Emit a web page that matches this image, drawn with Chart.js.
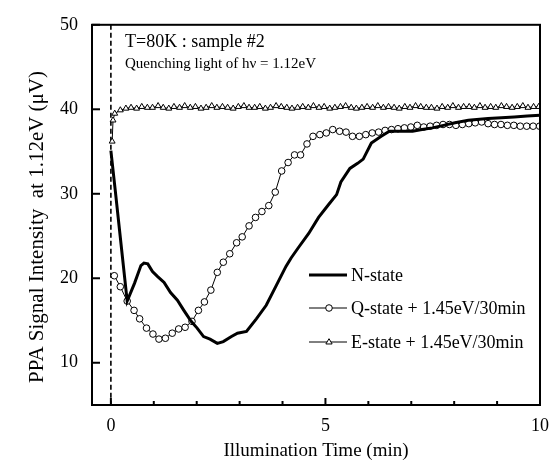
<!DOCTYPE html>
<html>
<head>
<meta charset="utf-8">
<script src="https://cdn.jsdelivr.net/npm/chart.js@4.4.1/dist/chart.umd.min.js"></script>
<style>
  body { margin: 0; background: #fff; }
  canvas { display: block; }
</style>
</head>
<body>
<canvas id="ppaChart" width="559" height="466"></canvas>
<script>
// Courbes PPA a 80K, sample #2
const seriesLabels = ['N-state', 'Q-state + 1.45eV/30min', 'E-state + 1.45eV/30min'];

const nTime = [0.00, 0.10, 0.21, 0.38, 0.55, 0.70, 0.77, 0.86, 0.97, 1.09,
  1.24, 1.39, 1.55, 1.70, 1.87, 2.01, 2.16, 2.31, 2.48, 2.62,
  2.81, 2.95, 3.16, 3.39, 3.62, 3.85, 4.08, 4.20, 4.38, 4.61,
  4.84, 5.07, 5.26, 5.36, 5.57, 5.75, 5.88, 6.07, 6.30, 6.49,
  6.75, 7.03, 7.25, 7.49, 7.75, 8.02, 8.33, 8.79, 9.10, 9.40,
  9.70, 10.0];
const nSignal = [35.1, 30.5, 25.3, 17.3, 19.4, 21.5, 21.8, 21.7, 20.8, 20.2,
  19.5, 18.3, 17.4, 16.2, 14.9, 14.1, 13.1, 12.8, 12.3, 12.5,
  13.1, 13.5, 13.7, 15.2, 16.8, 19.1, 21.4, 22.4, 23.7, 25.3,
  27.2, 28.7, 29.9, 31.4, 33.0, 33.6, 34.1, 36.0, 36.8, 37.4,
  37.4, 37.4, 37.6, 37.8, 38.1, 38.4, 38.7, 38.9, 39.0, 39.1,
  39.2, 39.3];

const qTime = [0.08, 0.22, 0.38, 0.54, 0.67, 0.83, 0.98, 1.12, 1.27, 1.43,
  1.58, 1.73, 1.89, 2.04, 2.18, 2.33, 2.48, 2.62, 2.77, 2.93,
  3.06, 3.22, 3.37, 3.52, 3.68, 3.83, 3.98, 4.13, 4.28, 4.42,
  4.57, 4.71, 4.87, 5.02, 5.17, 5.33, 5.48, 5.63, 5.79, 5.94,
  6.09, 6.24, 6.39, 6.54, 6.69, 6.84, 6.99, 7.14, 7.29, 7.44,
  7.59, 7.74, 7.89, 8.04, 8.19, 8.34, 8.49, 8.64, 8.79, 8.94,
  9.09, 9.24, 9.39, 9.54, 9.69, 9.84, 9.99];
const qSignal = [20.3, 19.0, 17.3, 16.2, 15.2, 14.1, 13.4, 12.8, 12.9, 13.5,
  14.0, 14.2, 14.9, 16.2, 17.2, 18.6, 20.7, 21.9, 22.9, 24.2,
  24.9, 26.2, 27.2, 27.9, 28.6, 30.2, 32.7, 33.7, 34.6, 34.6,
  35.9, 36.8, 37.0, 37.2, 37.6, 37.4, 37.3, 36.8, 36.8, 37.0,
  37.2, 37.3, 37.5, 37.6, 37.7, 37.8, 37.9, 38.1, 37.9, 38.0,
  38.1, 38.2, 38.2, 38.1, 38.2, 38.3, 38.4, 38.5, 38.3, 38.2,
  38.2, 38.1, 38.1, 38.0, 38.0, 38.0, 38.0];

const eTime = [0.03, 0.05, 0.09, 0.22, 0.35, 0.47, 0.60, 0.72, 0.85, 0.97,
  1.10, 1.22, 1.35, 1.47, 1.60, 1.72, 1.85, 1.97, 2.10, 2.22,
  2.35, 2.47, 2.60, 2.72, 2.85, 2.97, 3.10, 3.22, 3.35, 3.47,
  3.60, 3.72, 3.85, 3.97, 4.10, 4.22, 4.35, 4.47, 4.60, 4.72,
  4.85, 4.97, 5.10, 5.22, 5.35, 5.47, 5.60, 5.72, 5.85, 5.97,
  6.10, 6.22, 6.35, 6.47, 6.60, 6.72, 6.85, 6.97, 7.10, 7.22,
  7.35, 7.47, 7.60, 7.72, 7.85, 7.97, 8.10, 8.22, 8.35, 8.47,
  8.60, 8.72, 8.85, 8.97, 9.10, 9.22, 9.35, 9.47, 9.60, 9.72,
  9.85, 9.97];
const eSignal = [36.2, 38.7, 39.5, 39.9, 40.1, 40.2, 40.1, 40.3, 40.2, 40.2,
  40.4, 40.2, 40.1, 40.3, 40.2, 40.4, 40.2, 40.3, 40.1, 40.2,
  40.4, 40.2, 40.3, 40.2, 40.1, 40.3, 40.4, 40.2, 40.2, 40.3,
  40.1, 40.2, 40.4, 40.3, 40.2, 40.1, 40.2, 40.3, 40.2, 40.4,
  40.2, 40.3, 40.1, 40.2, 40.3, 40.4, 40.2, 40.1, 40.2, 40.3,
  40.2, 40.4, 40.2, 40.3, 40.2, 40.1, 40.3, 40.2, 40.4, 40.3,
  40.2, 40.2, 40.1, 40.3, 40.2, 40.4, 40.2, 40.3, 40.3, 40.2,
  40.4, 40.2, 40.3, 40.2, 40.4, 40.3, 40.2, 40.3, 40.4, 40.2,
  40.3, 40.3];

const xTicks = [0, 1, 2, 3, 4, 5, 6, 7, 8, 9, 10];
const yTicks = [10, 20, 30, 40, 50];

const toPoints = (xs, ys) => xs.map((x, i) => ({ x: x, y: ys[i] }));

const SERIF = "'Liberation Serif', 'DejaVu Serif', serif";
Chart.defaults.font.family = SERIF;
Chart.defaults.color = '#000';

function drawMarker(ctx, style, x, y, r) {
  ctx.save();
  ctx.fillStyle = '#fff';
  ctx.strokeStyle = '#000';
  ctx.lineWidth = 1;
  ctx.beginPath();
  if (style === 'circle') {
    ctx.arc(x, y, r, 0, Math.PI * 2);
  } else {
    ctx.moveTo(x, y - r);
    ctx.lineTo(x + r * 0.95, y + r * 0.6);
    ctx.lineTo(x - r * 0.95, y + r * 0.6);
    ctx.closePath();
  }
  ctx.fill();
  ctx.stroke();
  ctx.restore();
}

// cadre, graduations interieures, ligne t=0, textes et legende
const decor = {
  id: 'decor',
  beforeDatasetsDraw(chart) {
    const { ctx, chartArea: a, scales: { x } } = chart;
    const px = x.getPixelForValue(0);
    ctx.save();
    ctx.strokeStyle = '#000';
    ctx.lineWidth = 1.6;
    ctx.setLineDash([5, 3]);
    ctx.beginPath();
    ctx.moveTo(px, a.top);
    ctx.lineTo(px, a.bottom);
    ctx.stroke();
    ctx.restore();
  },
  afterDraw(chart) {
    const { ctx, chartArea: a, scales: { x, y } } = chart;
    ctx.save();
    ctx.strokeStyle = '#000';
    ctx.lineWidth = 2;
    ctx.strokeRect(a.left, a.top, a.right - a.left, a.bottom - a.top);

    xTicks.forEach(v => {
      const p = x.getPixelForValue(v);
      const len = v % 5 === 0 ? 7 : 4;
      ctx.beginPath();
      ctx.moveTo(p, a.bottom);
      ctx.lineTo(p, a.bottom - len);
      ctx.stroke();
    });
    yTicks.forEach(v => {
      const p = y.getPixelForValue(v);
      ctx.beginPath();
      ctx.moveTo(a.left, p);
      ctx.lineTo(a.left + 8, p);
      ctx.stroke();
    });

    ctx.fillStyle = '#000';
    ctx.textBaseline = 'alphabetic';
    ctx.font = '18px ' + SERIF;
    ctx.fillText('T=80K : sample #2', 125, 47);
    ctx.font = '15px ' + SERIF;
    ctx.fillText('Quenching light of h\u03BD = 1.12eV', 125, 68);

    // titre axe y (un peu decale vers le bas comme l'original)
    ctx.save();
    ctx.translate(37, 227);
    ctx.rotate(-Math.PI / 2);
    ctx.font = '21px ' + SERIF;
    ctx.textAlign = 'center';
    ctx.textBaseline = 'middle';
    ctx.fillText('PPA Signal Intensity  at 1.12eV (\u03BCV)', 0, 0);
    ctx.restore();

    // legende
    const rows = [
      { y: 275, lw: 3, marker: null },
      { y: 308, lw: 1, marker: 'circle' },
      { y: 342, lw: 1, marker: 'triangle' }
    ];
    ctx.font = '18px ' + SERIF;
    ctx.textBaseline = 'middle';
    rows.forEach((r, i) => {
      ctx.lineWidth = r.lw;
      ctx.beginPath();
      ctx.moveTo(309, r.y);
      ctx.lineTo(347, r.y);
      ctx.stroke();
      if (r.marker) drawMarker(ctx, r.marker, 329, r.y, 3.3);
      ctx.fillText(seriesLabels[i], 351, r.y + 1);
    });
    ctx.restore();
  }
};

new Chart(document.getElementById('ppaChart'), {
  type: 'line',
  data: {
    datasets: [{
      label: seriesLabels[0],
      data: toPoints(nTime, nSignal),
      borderColor: '#000',
      borderWidth: 3,
      pointRadius: 0,
      tension: 0
    }, {
      label: seriesLabels[1],
      data: toPoints(qTime, qSignal),
      borderColor: '#000',
      borderWidth: 1,
      pointStyle: 'circle',
      pointRadius: 3.3,
      pointBackgroundColor: '#fff',
      pointBorderColor: '#000',
      pointBorderWidth: 1,
      tension: 0
    }, {
      label: seriesLabels[2],
      data: toPoints(eTime, eSignal),
      borderColor: '#000',
      borderWidth: 1,
      pointStyle: 'triangle',
      pointRadius: 3.4,
      pointBackgroundColor: '#fff',
      pointBorderColor: '#000',
      pointBorderWidth: 1,
      tension: 0
    }]
  },
  options: {
    responsive: false,
    animation: false,
    layout: { padding: { left: 0, top: 16, right: 13, bottom: 0 } },
    plugins: { legend: { display: false }, tooltip: { enabled: false } },
    scales: {
      x: {
        type: 'linear',
        min: -0.44,
        max: 10,
        afterBuildTicks: s => { s.ticks = xTicks.map(v => ({ value: v })); },
        afterFit: s => { s.height = 61; },
        ticks: {
          font: { size: 18 },
          padding: 10,
          maxRotation: 0,
          callback: v => (v % 5 === 0 ? String(v) : '')
        },
        grid: { display: false, drawTicks: false },
        border: { display: false },
        title: {
          display: true,
          text: 'Illumination Time (min)',
          font: { size: 19 },
          padding: { top: 0, bottom: 4 }
        }
      },
      y: {
        min: 5,
        max: 50,
        afterBuildTicks: s => { s.ticks = yTicks.map(v => ({ value: v })); },
        afterFit: s => { s.width = 92; },
        ticks: { font: { size: 18 }, padding: 14 },
        grid: { display: false, drawTicks: false },
        border: { display: false },
        title: { display: false }
      }
    }
  },
  plugins: [decor]
});
</script>
</body>
</html>
